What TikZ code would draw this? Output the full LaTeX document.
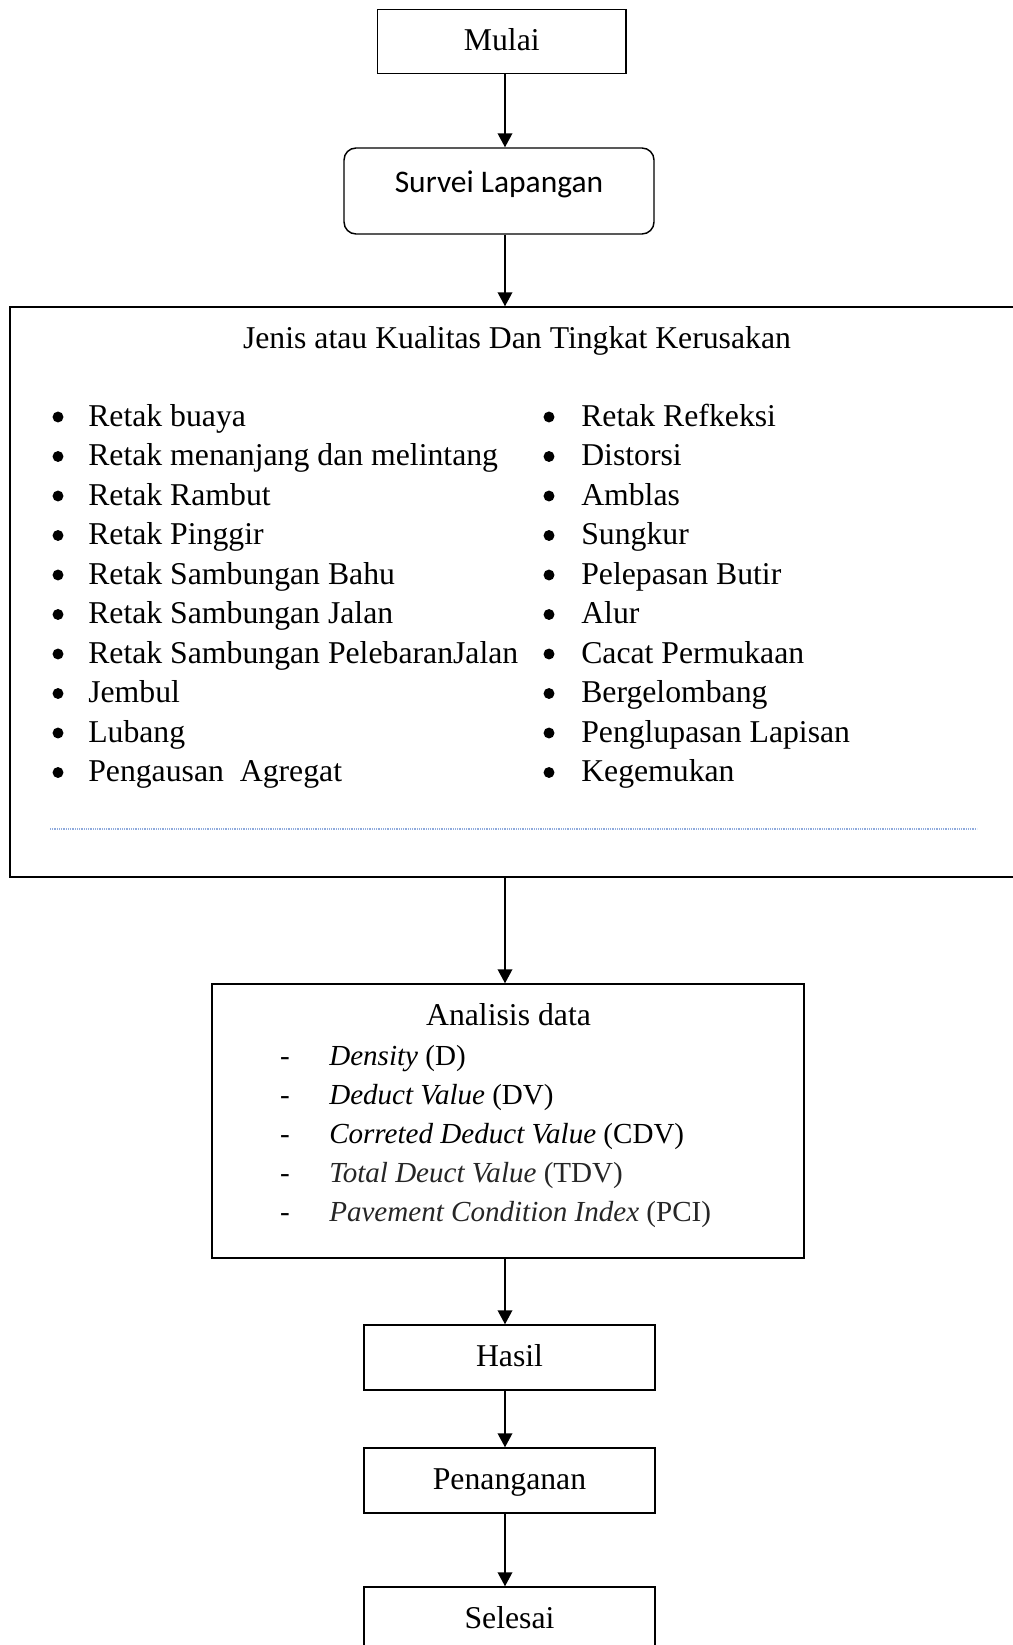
\documentclass[tikz,border=0pt]{standalone}
\usepackage{fontspec}
\setmainfont{Liberation Serif}
\newfontfamily\calib{Carlito}
\usetikzlibrary{arrows.meta}
\newcommand\myfs{\fontsize{23.8pt}{28pt}\selectfont}
\newcommand\smfs{\fontsize{21.8pt}{26pt}\selectfont}
\definecolor{dotblue}{RGB}{143,170,220}
\definecolor{grayish}{RGB}{38,38,38}
\begin{document}
\begin{tikzpicture}[x=0.75pt,y=-0.75pt,
  box/.style={draw,line width=1.1pt,inner sep=0pt,font=\myfs,text height=17pt,text depth=3.5pt},
  txt/.style={font=\myfs,anchor=base,inner sep=0pt},
  ltxt/.style={font=\myfs,anchor=base west,inner sep=0pt},
  stxt/.style={font=\smfs,anchor=base west,inner sep=0pt},
  bul/.style={circle,fill,inner sep=0pt,minimum size=8.2pt},
  arr/.style={line width=1.1pt,-{Triangle[length=10.5pt,width=11pt]}}]
\useasboundingbox (0,0) rectangle (1013,1645);
\coordinate (ax) at (505,0);
% boxes
\node[box,minimum width=186.4pt,minimum height=48.2pt] (mulai) at (501.75,41.5) {Mulai};
\node[box,rounded corners=9pt,minimum width=232.5pt,minimum height=64.5pt] (survei) at (499,191) {};
\node[anchor=base,inner sep=0pt,font=\calib\fontsize{23.6pt}{28pt}\selectfont] (surveit) at (499,192) {Survei Lapangan};
\node[box,minimum width=765pt,minimum height=427.5pt] (jenis) at (520,592) {};
\node[txt] (title) at (517,348) {Jenis atau Kualitas Dan Tingkat Kerusakan};
\foreach \t [count=\i from 0] in {Retak buaya,Retak menanjang dan melintang,Retak Rambut,Retak Pinggir,Retak Sambungan Bahu,Retak Sambungan Jalan,Retak Sambungan PelebaranJalan,Jembul,Lubang,Pengausan\ \ Agregat}{
  \node[bul] (lb\i) at (58,{417+39.5*\i}) {};
  \node[ltxt] (lt\i) at (88,{426+39.5*\i}) {\t};
}
\foreach \t [count=\i from 0] in {Retak Refkeksi,Distorsi,Amblas,Sungkur,Pelepasan Butir,Alur,Cacat Permukaan,Bergelombang,Penglupasan Lapisan,Kegemukan}{
  \node[bul] (rb\i) at (549,{417+39.5*\i}) {};
  \node[ltxt] (rt\i) at (581,{426+39.5*\i}) {\t};
}
\coordinate (d1) at (50,829);
\coordinate (d2) at (977,829);
\draw[dotblue,line width=0.8pt,dash pattern=on 0.75pt off 0.6pt] (d1) -- (d2);
% analisis
\node[box,minimum width=444pt,minimum height=205.5pt] (anal) at (508,1121) {};
\node[txt] (analt) at (508.5,1025.5) {Analisis data};
\node[txt,font=\smfs] (a1d) at (285,1065.5) {-};
\node[stxt] (a1) at (329,1065.5) {\textit{Density} (D)};
\node[txt,font=\smfs] (a2d) at (285,1104.5) {-};
\node[stxt] (a2) at (329,1104.5) {\textit{Deduct Value} (DV)};
\node[txt,font=\smfs] (a3d) at (285,1143.5) {-};
\node[stxt] (a3) at (329,1143.5) {\textit{Correted Deduct Value} (CDV)};
\node[txt,font=\smfs] (a4d) at (285,1182.5) {-};
\node[stxt,text=grayish] (a4) at (329,1182.5) {\textit{Total Deuct Value} (TDV)};
\node[txt,font=\smfs] (a5d) at (285,1221.5) {-};
\node[stxt,text=grayish] (a5) at (329,1221.5) {\textit{Pavement Condition Index} (PCI)};
% bottom boxes
\node[box,minimum width=218.25pt,minimum height=48.75pt] (hasil) at (509.5,1357.5) {Hasil};
\node[box,minimum width=218.25pt,minimum height=48.75pt] (penang) at (509.5,1480.5) {Penanganan};
\node[box,minimum width=218.25pt,minimum height=48.75pt] (selesai) at (509.5,1619.5) {Selesai};
% arrows
\draw[arr] (mulai.south -| ax) -- (survei.north -| ax);
\draw[arr] (survei.south -| ax) -- (jenis.north -| ax);
\draw[arr] (jenis.south -| ax) -- (anal.north -| ax);
\draw[arr] (anal.south -| ax) -- (hasil.north -| ax);
\draw[arr] (hasil.south -| ax) -- (penang.north -| ax);
\draw[arr] (penang.south -| ax) -- (selesai.north -| ax);
\end{tikzpicture}
\end{document}
